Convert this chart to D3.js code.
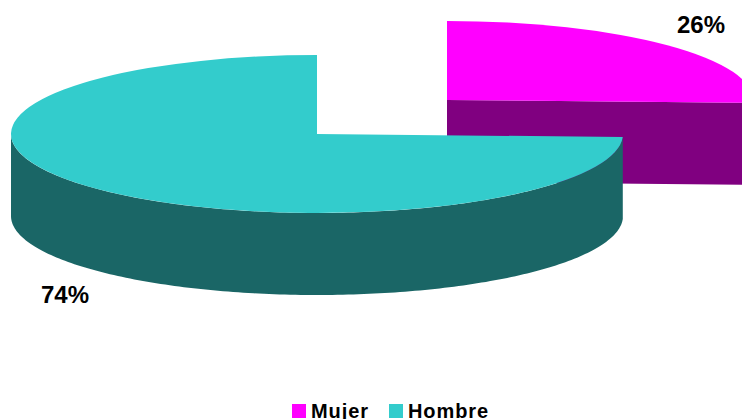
<!DOCTYPE html>
<html>
<head>
<meta charset="utf-8">
<script src="https://cdn.jsdelivr.net/npm/d3@7"></script>
<style>
  html, body { margin: 0; padding: 0; background: #fff; }
  svg { display: block; }
  text { font-family: "Liberation Sans", Arial, sans-serif; font-weight: bold; fill: #000; }
</style>
</head>
<body>
<div id="chart"></div>
<script>
// values (labels are rounded to whole percent)
var categories = ["Mujer", "Hombre"];
var values = [25.6, 74.4];
var topColors = ["#ff00ff", "#33cccc"];
var sideColors = ["#800080", "#1a6666"];

var svgWidth = 742;
var svgHeight = 419;

// pie geometry: flattened ellipse plus a wall below it
var rx = 306;
var ry = 79;
var depth = 82;
var center = { x: 317, y: 134 };
// the Mujer slice is pulled out up and to the right
var explode = { x: 130, y: -34 };

var svg = d3.select("#chart")
  .append("svg")
  .attr("width", svgWidth)
  .attr("height", svgHeight);

var slices = d3.pie().sort(null)(values);

var arc = d3.arc().innerRadius(0).outerRadius(rx);

function offsetFor(i) {
  return i === 0 ? explode : { x: 0, y: 0 };
}

// point on the rim, angle measured clockwise from 12 o'clock
function rim(angle, drop) {
  return [rx * Math.sin(angle), -ry * Math.cos(angle) + drop];
}

// outer wall of a slice, only the part that faces the viewer
function wallPath(d) {
  var a0 = Math.max(d.startAngle, Math.PI / 2);
  var a1 = Math.min(d.endAngle, Math.PI * 3 / 2);
  if (a1 <= a0) return null;
  var angles = d3.range(0, 181).map(t => a0 + (a1 - a0) * t / 180);
  var top = angles.map(a => rim(a, 0));
  var bottom = angles.slice().reverse().map(a => rim(a, depth));
  return d3.line()(top.concat(bottom)) + "Z";
}

// flat cut face along the end of a slice
function cutPath(d) {
  var p = rim(d.endAngle, 0);
  return d3.line()([[0, 0], p, [p[0], p[1] + depth], [0, depth]]) + "Z";
}

// Mujer goes first so that Hombre overlaps it
var groups = svg.selectAll("g.slice")
  .data(slices)
  .enter()
  .append("g")
  .attr("class", "slice")
  .attr("transform", (d, i) => `translate(${center.x + offsetFor(i).x}, ${center.y + offsetFor(i).y})`);

// cut face of Mujer is the only one that can be seen
groups.filter((d, i) => i === 0)
  .append("path")
  .attr("d", cutPath)
  .attr("fill", sideColors[0]);

groups.append("path")
  .attr("d", wallPath)
  .attr("fill", (d, i) => sideColors[i]);

groups.append("path")
  .attr("d", arc)
  .attr("transform", `scale(1, ${ry / rx})`)
  .attr("fill", (d, i) => topColors[i]);

// percent labels
var labelPos = [[701, 33], [65, 303]];
svg.selectAll("text.pct")
  .data(values)
  .enter()
  .append("text")
  .attr("class", "pct")
  .attr("x", (d, i) => labelPos[i][0])
  .attr("y", (d, i) => labelPos[i][1])
  .attr("text-anchor", "middle")
  .style("font-size", "24px")
  .text(d => Math.round(d) + "%");

// legend
var legendX = [292, 389];
var legend = svg.selectAll("g.legend")
  .data(categories)
  .enter()
  .append("g")
  .attr("class", "legend")
  .attr("transform", (d, i) => `translate(${legendX[i]}, 404)`);

legend.append("rect")
  .attr("width", 14)
  .attr("height", 14)
  .attr("fill", (d, i) => topColors[i]);

legend.append("text")
  .attr("x", 19)
  .attr("y", 14)
  .style("font-size", "20px")
  .style("letter-spacing", "0.9px")
  .text(d => d);
</script>
</body>
</html>
